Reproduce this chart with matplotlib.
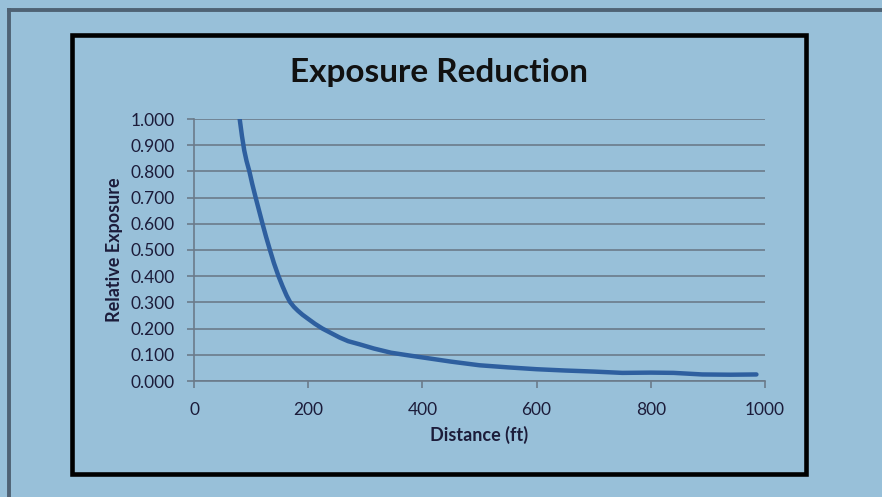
import matplotlib
matplotlib.use("Agg")
import matplotlib.pyplot as plt
from matplotlib.patches import Rectangle
from matplotlib.lines import Line2D

# Data
distance_ft = [80, 84, 88, 92, 97, 102, 108, 114, 120, 126, 133, 140, 148, 155, 162, 168, 175,
               182, 190, 200, 212, 225, 240, 255, 270, 290, 315, 345,
               375, 400, 450, 500, 550, 600, 650, 700, 750, 800, 840, 890, 940, 985]
relative_exposure = [1.000, 0.935, 0.880, 0.840, 0.800, 0.752, 0.700, 0.650, 0.600, 0.552,
                     0.500, 0.450, 0.400, 0.362, 0.327, 0.302, 0.283, 0.268, 0.253, 0.237,
                     0.218, 0.200, 0.183, 0.166, 0.152, 0.140, 0.124, 0.108,
                     0.098, 0.090, 0.074, 0.060, 0.052, 0.045, 0.040, 0.036, 0.031, 0.032,
                     0.031, 0.025, 0.024, 0.025]
x_ticks = [0, 200, 400, 600, 800, 1000]
y_ticks = [0.0, 0.1, 0.2, 0.3, 0.4, 0.5, 0.6, 0.7, 0.8, 0.9, 1.0]

title = "Exposure Reduction"
x_label = "Distance (ft)"
y_label = "Relative Exposure"

bg = "#98c0d9"
grid_c = "#6b7b8a"
text_c = "#1c1c3a"
line_c = "#2e5f9f"

plt.rcParams['font.family'] = ['Lato', 'DejaVu Sans']

W, H = 882, 497
fig = plt.figure(figsize=(W / 100, H / 100), dpi=100, facecolor=bg)

# Outer border (left and top edges)
fig.add_artist(Line2D([8.5 / W, 8.5 / W], [0, 1 - 8 / H], transform=fig.transFigure,
                      color="#4f6274", lw=2.8, solid_capstyle='butt'))
fig.add_artist(Line2D([7 / W, 1], [1 - 9.5 / H, 1 - 9.5 / H], transform=fig.transFigure,
                      color="#4f6274", lw=2.8, solid_capstyle='butt'))

# Inner black frame
fig.add_artist(Rectangle((71.5 / W, 1 - 473.5 / H), (806 - 71.5) / W, (473.5 - 34.5) / H,
                         transform=fig.transFigure, fill=False, edgecolor="black", lw=3.3))

ax = fig.add_axes([194 / W, 1 - 381 / H, (765 - 194) / W, (381 - 119) / H])
ax.set_facecolor(bg)
ax.plot(distance_ft, relative_exposure, color=line_c, lw=3.2, solid_capstyle='round',
        solid_joinstyle='round')

ax.set_xlim(0, 1000)
ax.set_ylim(0, 1.0)
ax.set_xticks(x_ticks)
ax.set_xticklabels([str(v) for v in x_ticks])
ax.set_yticks(y_ticks)
ax.set_yticklabels([f"{v:.3f}" for v in y_ticks])
ax.yaxis.grid(True, color=grid_c, lw=1.2)
ax.set_axisbelow(True)

for s in ['top', 'right']:
    ax.spines[s].set_visible(False)
for s in ['left', 'bottom']:
    ax.spines[s].set_color(grid_c)
    ax.spines[s].set_linewidth(1.2)

ax.tick_params(axis='both', colors=grid_c, labelcolor=text_c, labelsize=12.5, length=5, width=1.2)
ax.tick_params(axis='y', pad=9)
ax.tick_params(axis='x', pad=10)

ax.set_xlabel(x_label, fontsize=13, fontweight='bold', color=text_c, labelpad=6)
ax.set_ylabel(y_label, fontsize=13, fontweight='bold', color=text_c, labelpad=5)

fig.text(439 / W, 1 - 72 / H, title, ha='center', va='center', fontsize=24,
         fontweight='bold', color="#111111")

fig.savefig("out.png", dpi=100, facecolor=bg)
